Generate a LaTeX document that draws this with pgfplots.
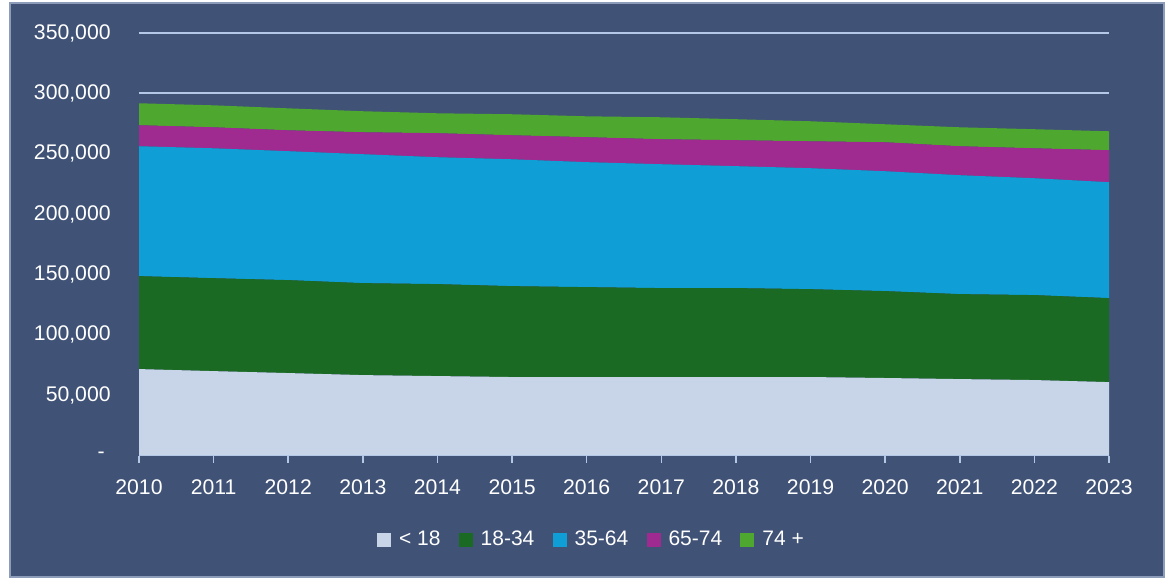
\documentclass[border=0pt]{standalone}
\usepackage{pgfplots}
\pgfplotsset{compat=1.18}
\usepackage{fontspec}
\setmainfont{Liberation Sans}
\definecolor{bgc}{HTML}{405276}
\definecolor{framec}{HTML}{8D9CB8}
\definecolor{gridc}{HTML}{B4C7E7}
\definecolor{cA}{HTML}{C8D4E8}
\definecolor{cB}{HTML}{1B6A24}
\definecolor{cC}{HTML}{0F9ED6}
\definecolor{cD}{HTML}{A02B90}
\definecolor{cE}{HTML}{4EA72E}
\begin{document}
\begin{tikzpicture}
\fill[white] (0pt,0pt) rectangle (583.5pt,-289.5pt);
\fill[bgc] (5pt,-1.5pt) rectangle (582pt,-288.5pt);
\draw[framec, line width=1pt] (5pt,-1.5pt) rectangle (582pt,-288.5pt);
\begin{axis}[
  at={(69.5pt,-227.75pt)}, anchor=south west,
  scale only axis, width=485pt, height=211.25pt,
  xmin=2010, xmax=2023, ymin=0, ymax=350000,
  scaled y ticks=false,
  stack plots=y, area style,
  axis lines*=left,
  y axis line style={draw=none},
  x axis line style={color=gridc, line width=0.75pt},
  ytick={0,50000,100000,150000,200000,250000,300000,350000},
  yticklabels={{-\kern3pt\relax},{50,000},{100,000},{150,000},{200,000},{250,000},{300,000},{350,000}},
  extra y ticks={300000,350000},
  extra y tick labels={},
  extra y tick style={grid=major, major tick length=0pt, grid style={color=gridc, line width=1pt}},
  xtick={2010,2011,2012,2013,2014,2015,2016,2017,2018,2019,2020,2021,2022,2023},
  xticklabels={2010,2011,2012,2013,2014,2015,2016,2017,2018,2019,2020,2021,2022,2023},
  ytick style={draw=none},
  xtick style={color=gridc, line width=0.75pt},
  tick align=outside, major tick length=3.5pt,
  tick label style={font=\fontsize{10.6}{12}\selectfont, text=white},
  y tick label style={anchor=east, inner sep=0pt, xshift=-10.5pt},
  x tick label style={anchor=north, inner sep=0pt, yshift=-8.5pt},
  legend columns=5,
  legend style={at={(0.4675,-0.2)}, anchor=center, draw=none, fill=none,
    font=\fontsize{10.5}{12}\selectfont, text=white,
    /tikz/every odd column/.append style={column sep=2pt},
    /tikz/every even column/.append style={column sep=7.1pt}},
  legend image code/.code={\fill[#1] (0pt,-3.5pt) rectangle (7pt,3.5pt);},
]
\addplot[fill=cA, draw=none] coordinates {(2010,71600) (2011,69900) (2012,68300) (2013,66600) (2014,65800) (2015,65000) (2016,65000) (2017,65000) (2018,65000) (2019,65000) (2020,64200) (2021,63300) (2022,62500) (2023,60800)} \closedcycle;
\addlegendentry{< 18}
\addplot[fill=cB, draw=none] coordinates {(2010,77000) (2011,77000) (2012,77000) (2013,76200) (2014,76200) (2015,75300) (2016,74500) (2017,73700) (2018,73700) (2019,72800) (2020,72000) (2021,70400) (2022,70400) (2023,69600)} \closedcycle;
\addlegendentry{18-34}
\addplot[fill=cC, draw=none] coordinates {(2010,107600) (2011,107600) (2012,106800) (2013,106800) (2014,105100) (2015,105100) (2016,103500) (2017,102600) (2018,101000) (2019,100200) (2020,99300) (2021,98500) (2022,96800) (2023,96000)} \closedcycle;
\addlegendentry{35-64}
\addplot[fill=cD, draw=none] coordinates {(2010,17400) (2011,17400) (2012,17300) (2013,18200) (2014,19900) (2015,19900) (2016,20700) (2017,20700) (2018,21500) (2019,22300) (2020,24000) (2021,24000) (2022,24800) (2023,26500)} \closedcycle;
\addlegendentry{65-74}
\addplot[fill=cE, draw=none] coordinates {(2010,18200) (2011,18200) (2012,18200) (2013,17400) (2014,16500) (2015,17400) (2016,17300) (2017,18200) (2018,17400) (2019,16600) (2020,14900) (2021,15700) (2022,15800) (2023,15700)} \closedcycle;
\addlegendentry{74 +}
\end{axis}
\end{tikzpicture}
\end{document}
